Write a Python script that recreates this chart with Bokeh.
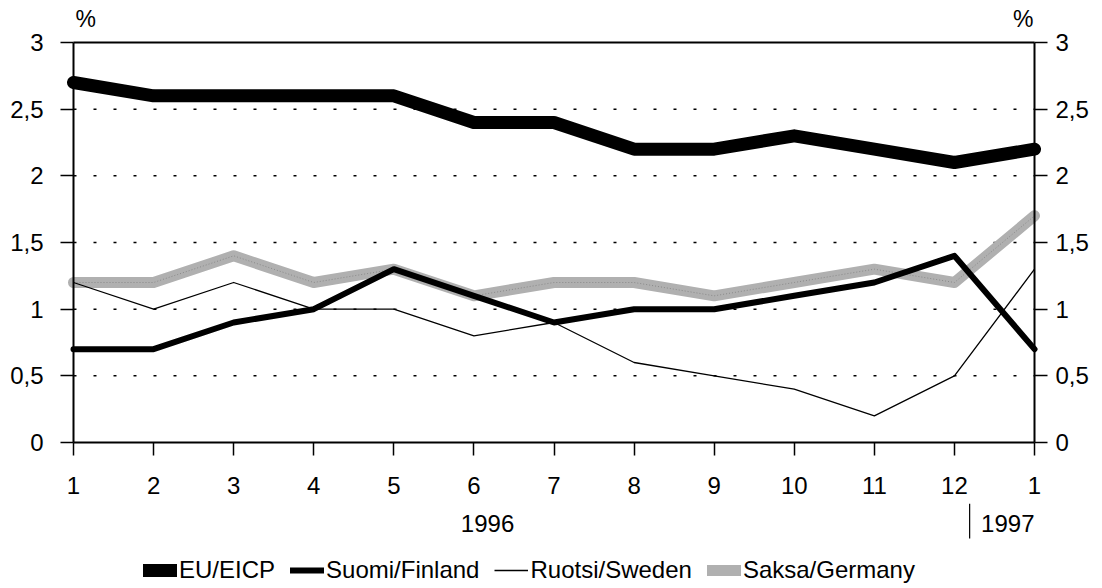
from bokeh.plotting import figure
from bokeh.models import (Range1d, FixedTicker, Legend, LegendItem, Label,
                          LinearAxis, BoxAnnotation)
from bokeh.embed import file_html
from bokeh.resources import INLINE

# ---------------- data ----------------
months = [1, 2, 3, 4, 5, 6, 7, 8, 9, 10, 11, 12, 13]
month_labels = ["1", "2", "3", "4", "5", "6", "7", "8", "9", "10", "11", "12", "1"]
eu = [2.7, 2.6, 2.6, 2.6, 2.6, 2.4, 2.4, 2.2, 2.2, 2.3, 2.2, 2.1, 2.2]
finland = [0.7, 0.7, 0.9, 1.0, 1.3, 1.1, 0.9, 1.0, 1.0, 1.1, 1.2, 1.4, 0.7]
sweden = [1.2, 1.0, 1.2, 1.0, 1.0, 0.8, 0.9, 0.6, 0.5, 0.4, 0.2, 0.5, 1.3]
germany = [1.2, 1.2, 1.4, 1.2, 1.3, 1.1, 1.2, 1.2, 1.1, 1.2, 1.3, 1.2, 1.7]
series_names = ["EU/EICP", "Suomi/Finland", "Ruotsi/Sweden", "Saksa/Germany"]
y_ticks = [0, 0.5, 1, 1.5, 2, 2.5, 3]
y_tick_labels = ["0", "0,5", "1", "1,5", "2", "2,5", "3"]
grid_ticks = [0.5, 1, 1.5, 2, 2.5]
year_labels = ["1996", "1997"]
unit_label = "%"
Y_MIN, Y_MAX = 0, 3
X_MIN, X_MAX = months[0], months[-1]

FONT = "Liberation Sans"
FS = "24px"

# the frame covers the whole picture; the plot box (1..13 x 0..3) lies inside it
p = figure(frame_width=1100, frame_height=584,
           x_range=Range1d(0.0885, 13.824), y_range=Range1d(-1.095, 3.285),
           output_backend="svg", toolbar_location=None,
           min_border_left=0, min_border_right=0, min_border_top=4,
           min_border_bottom=0)
p.background_fill_color = "white"
p.border_fill_color = "white"
p.outline_line_color = None
p.xgrid.visible = False
p.ygrid.visible = False

# dotted horizontal grid lines, only across the plot box
p.segment(x0=[X_MIN] * len(grid_ticks), y0=grid_ticks,
          x1=[X_MAX] * len(grid_ticks), y1=grid_ticks,
          line_color="black", line_width=1.5, line_dash="3 17")
# top border of the plot box
p.segment(x0=[X_MIN], y0=[Y_MAX], x1=[X_MAX], y1=[Y_MAX],
          line_color="black", line_width=2)

def style_axis(ax, standoff):
    ax.axis_line_color = "black"
    ax.axis_line_width = 2
    ax.major_tick_line_color = "black"
    ax.major_tick_line_width = 1.5
    ax.major_tick_out = 13
    ax.major_tick_in = 0
    ax.minor_tick_line_color = None
    ax.major_label_text_font = FONT
    ax.major_label_text_font_size = FS
    ax.major_label_text_color = "black"
    ax.major_label_standoff = standoff

# x axis, fixed at value 0
xax = p.xaxis[0]
xax.ticker = FixedTicker(ticks=months)
xax.major_label_overrides = {m: l for m, l in zip(months, month_labels)}
xax.fixed_location = Y_MIN
xax.bounds = (X_MIN, X_MAX)
style_axis(xax, 21)

# left y axis fixed at first month
yax = p.yaxis[0]
yax.ticker = FixedTicker(ticks=y_ticks)
yax.major_label_overrides = {t: l for t, l in zip(y_ticks, y_tick_labels)}
yax.bounds = (Y_MIN, Y_MAX)
yax.fixed_location = X_MIN
style_axis(yax, 17)

# right y axis fixed at last month
rax = LinearAxis(ticker=FixedTicker(ticks=y_ticks),
                 major_label_overrides={t: l for t, l in zip(y_ticks, y_tick_labels)},
                 bounds=(Y_MIN, Y_MAX), fixed_location=X_MAX)
style_axis(rax, 8)
p.add_layout(rax, "right")

# lines
r_de = p.line(months, germany, line_color="#b0b0b0", line_width=11,
              line_join="round", line_cap="round")
r_de2 = p.line(months, germany, line_color="#8a8a8a", line_width=1,
               line_dash="1 2", line_join="round")
r_eu = p.line(months, eu, line_color="black", line_width=13,
              line_join="round", line_cap="round")
r_fi = p.line(months, finland, line_color="black", line_width=6,
              line_join="round", line_cap="round")
r_se = p.line(months, sweden, line_color="black", line_width=1.3,
              line_join="round")

legend = Legend(items=[
    LegendItem(label=series_names[0], renderers=[r_eu]),
    LegendItem(label=series_names[1], renderers=[r_fi]),
    LegendItem(label=series_names[2], renderers=[r_se]),
    LegendItem(label=series_names[3], renderers=[r_de]),
], orientation="horizontal", location=(143, 4))
legend.label_text_font = FONT
legend.label_text_font_size = FS
legend.label_text_color = "black"
legend.glyph_width = 34
legend.glyph_height = 20
legend.label_standoff = 2
legend.spacing = 15
legend.padding = 0
legend.margin = 0
legend.border_line_color = None
legend.background_fill_alpha = 0
p.add_layout(legend, "center")

# year labels and unit labels
p.add_layout(Label(x=6.17, y=-0.61, text=year_labels[0],
                   text_align="center", text_baseline="middle",
                   text_font=FONT, text_font_size=FS, text_color="black"))
p.add_layout(Label(x=X_MAX, y=-0.61, text=year_labels[1],
                   text_align="right", text_baseline="middle",
                   text_font=FONT, text_font_size=FS, text_color="black"))
p.add_layout(BoxAnnotation(left=12.19, right=12.19, top=-0.46, bottom=-0.72,
                           fill_alpha=0, line_color="black", line_width=1.2, line_alpha=1))
p.add_layout(Label(x=X_MIN, y=3.18, x_offset=2, text=unit_label,
                   text_align="left", text_baseline="middle",
                   text_font=FONT, text_font_size="23px", text_color="black"))
p.add_layout(Label(x=X_MAX, y=3.18, x_offset=-1, text=unit_label,
                   text_align="right", text_baseline="middle",
                   text_font=FONT, text_font_size="23px", text_color="black"))

open("out.html", "w").write(file_html(p, INLINE))
